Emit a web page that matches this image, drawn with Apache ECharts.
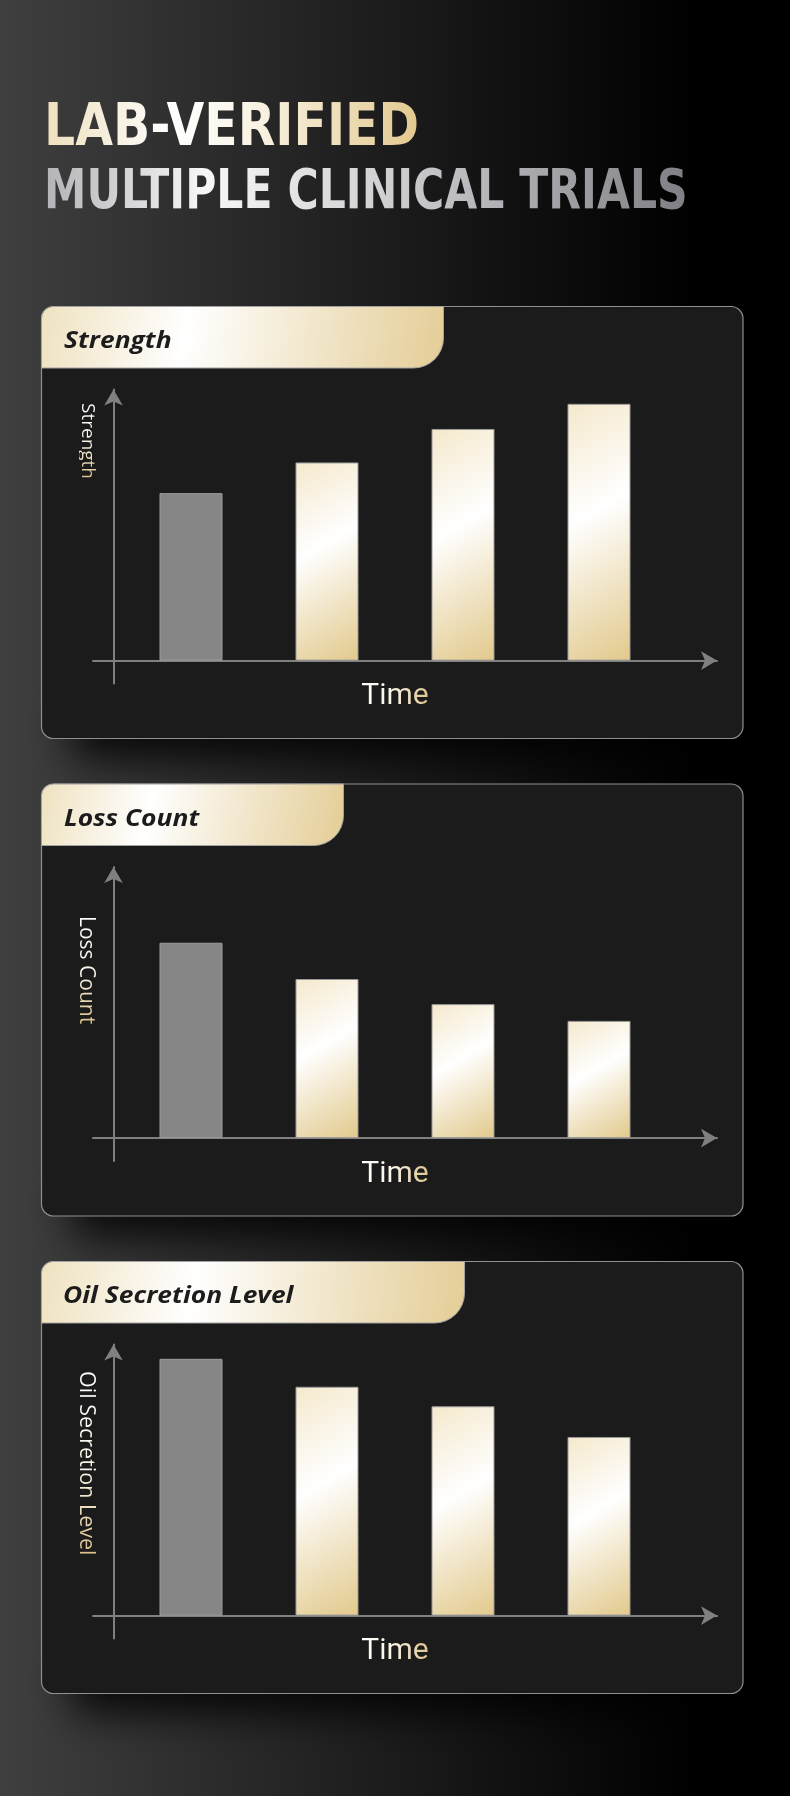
<!DOCTYPE html>
<html>
<head>
<meta charset="utf-8">
<script src="https://cdn.jsdelivr.net/npm/echarts@6/dist/echarts.min.js"></script>
<style>
html,body{margin:0;padding:0;background:#000;}
#wrap{position:relative;width:790px;height:1796px;overflow:hidden;}
#base{position:absolute;left:0;top:0;width:790px;height:1796px;}
#texts{position:absolute;left:0;top:0;width:790px;height:1796px;pointer-events:none;}
.t{position:absolute;white-space:nowrap;margin:0;padding:0;}
</style>
</head>
<body>
<div id="wrap"><div id="base"></div><div id="texts"></div></div>
<script>
// ---- data ----
const titleLine1 = 'LAB-VERIFIED';
const titleLine2 = 'MULTIPLE CLINICAL TRIALS';
const panelTitles = ['Strength', 'Loss Count', 'Oil Secretion Level'];
const yAxisNames = ['Strength', 'Loss Count', 'Oil Secretion Level'];
const xAxisName = 'Time';
const categories = ['Before', 'Stage 1', 'Stage 2', 'Stage 3'];
const strengthValues = [60, 71, 83, 92];
const lossCountValues = [70, 57, 48, 42];
const oilSecretionValues = [92, 82, 75, 64];
const yMax = 100;

// ---- layout ----
const seriesValues = [strengthValues, lossCountValues, oilSecretionValues];
const panelTops = [306, 783.5, 1261];
const tabWidths = [402, 302, 423];
const yNameOffsets = [96.7, 132, 109.7];
const yNameSizes = [19, 21, 21.5];
const plotTopOff = 75.5, axisOff = 354.6, yBottomOff = 377.5;
const plotH = axisOff - plotTopOff;
const barW = 63, bandAngle = 30 * Math.PI / 180;

function lin(x, y, x2, y2, stops) {
  return {type: 'linear', x: x, y: y, x2: x2, y2: y2,
    colorStops: stops.map(s => ({offset: s[0], color: s[1]}))};
}
function goldBar(v) {
  const h = Math.max(1, v / yMax * plotH);
  const sn = Math.sin(bandAngle), cs = Math.cos(bandAngle);
  const L = barW * sn + h * cs;
  return lin(0, 0, L * sn / barW, L * cs / h, [[0, '#f5e9cd'], [0.42, '#ffffff'], [1, '#e2c98c']]);
}
const tabGrad = () => lin(0, 0, 1, 1, [[0, '#efe2c0'], [0.36, '#ffffff'], [1, '#e4cd96']]);

const grids = [], xAxes = [], yAxes = [], series = [], baseGraphics = [];
baseGraphics.push({type: 'rect', silent: true, z: 0,
  shape: {x: 0, y: 0, width: 790, height: 1796},
  style: {fill: lin(0, 0, 1, 0, [[0, '#3f3f3f'], [0.88, '#000000'], [1, '#000000']])}});

const hiddenAxis = (gi, extra) => Object.assign({gridIndex: gi, type: 'value', show: false}, extra || {});
const lineStyle = {color: '#808080', width: 2};

panelTops.forEach((T, p) => {
  const tipY = T + plotTopOff, axisY = T + axisOff, yBottom = T + yBottomOff;
  baseGraphics.push({type: 'rect', silent: true, z: 1,
    shape: {x: 70, y: T + 370, width: 640, height: 60, r: 20},
    style: {fill: '#000', shadowBlur: 40, shadowOffsetY: 22, shadowColor: 'rgba(0,0,0,0.85)'}});
  baseGraphics.push({type: 'rect', silent: true, z: 2,
    shape: {x: 41.5, y: T + 0.5, width: 701.5, height: 432, r: 12},
    style: {fill: '#1b1b1b', stroke: '#8f8f8f', lineWidth: 1.2}});
  baseGraphics.push({type: 'rect', silent: true, z: 3,
    shape: {x: 41.5, y: T + 0.5, width: tabWidths[p], height: 61.5, r: [12, 0, 30, 0]},
    style: {fill: tabGrad(), stroke: '#a2a2a2', lineWidth: 1}});

  const g0 = p * 3, g1 = p * 3 + 1, g2 = p * 3 + 2;
  grids.push({left: 123, width: 544, top: tipY, height: plotH});
  xAxes.push({gridIndex: g0, type: 'category', data: categories, show: false});
  yAxes.push(hiddenAxis(g0, {min: 0, max: yMax}));
  series.push({type: 'bar', xAxisIndex: g0, yAxisIndex: g0, barWidth: barW, z: 6, silent: true,
    data: seriesValues[p].map((v, i) => ({value: v,
      itemStyle: i === 0 ? {color: '#868686', borderColor: '#9c9c9c', borderWidth: 1}
                         : {color: goldBar(v), borderColor: '#9a9a9a', borderWidth: 1}}))});
  grids.push({left: 93, width: 624, top: axisY - 10, height: 10});
  xAxes.push({gridIndex: g1, type: 'value', min: 0, max: 1, position: 'bottom', z: 5,
    axisLine: {show: true, onZero: false, symbol: ['none', 'arrow'], symbolSize: [14, 16], lineStyle: lineStyle},
    axisTick: {show: false}, axisLabel: {show: false}, splitLine: {show: false}});
  yAxes.push(hiddenAxis(g1));
  grids.push({left: 113.5, width: 10, top: tipY + 8, height: yBottom - tipY - 8});
  xAxes.push(hiddenAxis(g2));
  yAxes.push({gridIndex: g2, type: 'value', min: 0, max: 1, position: 'left', z: 5,
    axisLine: {show: true, onZero: false, symbol: ['none', 'arrow'], symbolSize: [14, 16], lineStyle: lineStyle},
    axisTick: {show: false}, axisLabel: {show: false}, splitLine: {show: false}});
});

const base = echarts.init(document.getElementById('base'), null, {renderer: 'canvas', width: 790, height: 1796});
base.setOption({animation: false, backgroundColor: '#000', grid: grids, xAxis: xAxes, yAxis: yAxes, series: series,
  graphic: {elements: baseGraphics}});

// ---- gradient texts ----
const layer = document.getElementById('texts');
const mctx = document.createElement('canvas').getContext('2d');
function fm(text, font) {
  mctx.font = font;
  const m = mctx.measureText(text), h = mctx.measureText('H');
  return {w: m.actualBoundingBoxLeft + m.actualBoundingBoxRight, l: m.actualBoundingBoxLeft,
    A: m.fontBoundingBoxAscent, D: m.fontBoundingBoxDescent, cap: h.actualBoundingBoxAscent, adv: m.width};
}
function addText(text, font, size, css, grad) {
  const d = document.createElement('div');
  d.className = 't';
  d.textContent = text;
  d.style.font = font;
  d.style.lineHeight = size + 'px';
  Object.assign(d.style, css);
  if (grad) {
    d.style.backgroundImage = grad;
    d.style.webkitBackgroundClip = 'text';
    d.style.backgroundClip = 'text';
    d.style.color = 'transparent';
    d.style.webkitTextFillColor = 'transparent';
  }
  layer.appendChild(d);
  return d;
}
function baselineOffset(m, size) { return (size - (m.A + m.D)) / 2 + m.A; }

[[titleLine1, 59, 47.3, 145, 369.4, 'linear-gradient(90deg,#eee0bd 0%,#ffffff 35%,#faf4e6 55%,#e2c98f 100%)'],
 [titleLine2, 55, 47.3, 208.3, 638, 'linear-gradient(90deg,#b3b3b7 0%,#f7f7f7 25%,#cdcdd0 55%,#7f7e84 100%)']]
.forEach(([txt, size, inkLeft, baseY, inkW, grad]) => {
  const font = 'bold ' + size + 'px "DejaVu Sans Condensed", "DejaVu Sans"';
  const m = fm(txt, font);
  const s = inkW / m.w;
  addText(txt, font, size, {left: (inkLeft + m.l * s) + 'px', top: (baseY - baselineOffset(m, size)) + 'px',
    transform: 'scaleX(' + s + ')', transformOrigin: '0 0'}, grad);
});

panelTops.forEach((T, p) => {
  const axisY = T + axisOff;
  const tf = 'italic bold 24px "Open Sans"';
  const tm = fm(panelTitles[p], tf);
  addText(panelTitles[p], tf, 24, {left: (64 + tm.l * 1.1) + 'px', top: (T + 42.5 - baselineOffset(tm, 24)) + 'px',
    color: '#1c1c1c', transform: 'scaleX(1.1)', transformOrigin: '0 0'});
  const ys = yNameSizes[p];
  const yf = '400 ' + ys + 'px "Open Sans"';
  const ym = fm(yAxisNames[p], yf);
  const b = baselineOffset(ym, ys);
  addText(yAxisNames[p], yf, ys, {left: (87.5 + b - ym.cap / 2) + 'px', top: (T + yNameOffsets[p]) + 'px',
    transform: 'rotate(90deg)', transformOrigin: '0 0'},
    'linear-gradient(90deg,#ffffff 0%,#f8f2e4 55%,#d8bf86 100%)');
  const xf = '30px Roboto';
  const xm = fm(xAxisName, xf);
  addText(xAxisName, xf, 30, {left: (395 - xm.adv / 2) + 'px', top: (axisY + 44.3 - baselineOffset(xm, 30)) + 'px'},
    'linear-gradient(90deg,#ffffff 0%,#fbf5e8 45%,#dcc48c 100%)');
});
</script>
</body>
</html>
